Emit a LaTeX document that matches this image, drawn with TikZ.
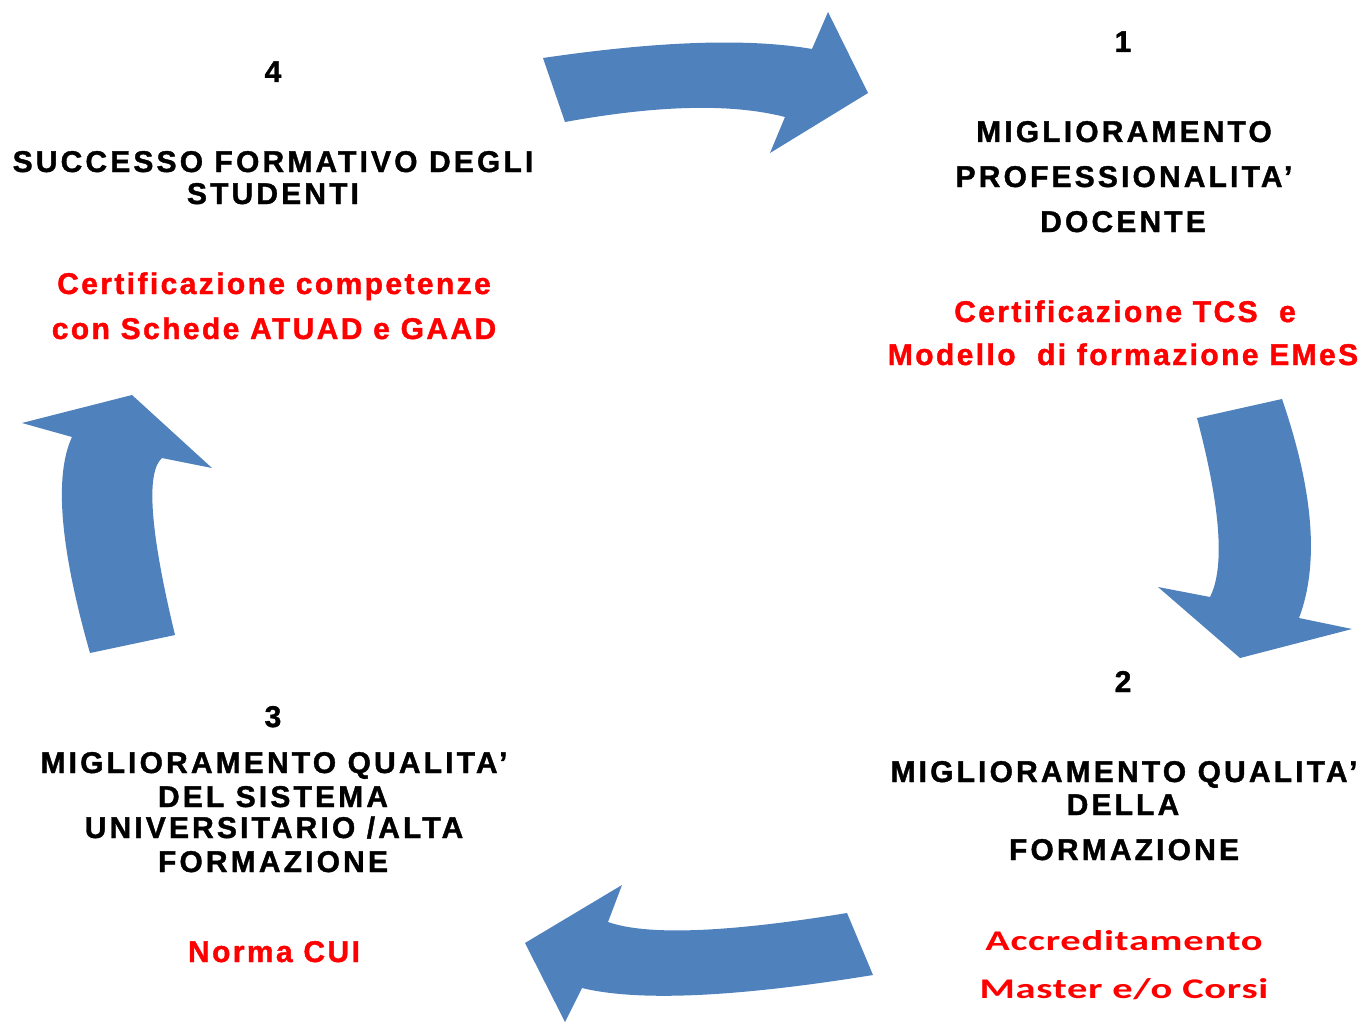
\documentclass[tikz,border=0pt]{standalone}
\usepackage{fontspec}
\newfontfamily\blkfont{Liberation Sans}[LetterSpace=10.5,BoldFeatures={FakeBold=1.3}]
\newfontfamily\redfont{Liberation Sans}[LetterSpace=8,BoldFeatures={FakeBold=1.3}]
\newfontfamily\carfont{Carlito}[LetterSpace=2.5,BoldFeatures={FakeStretch=1.42}]
\definecolor{arrowblue}{HTML}{4F81BD}
\definecolor{redtxt}{HTML}{FF0000}
\begin{document}
\begin{tikzpicture}[x=1pt,y=-1pt,
  arrowshape/.style={fill=arrowblue,draw=none},
  lbl/.style={anchor=base,inner sep=0pt,font=\blkfont\bfseries\fontsize{30}{36}\selectfont,text=black},
  redlbl/.style={anchor=base,inner sep=0pt,font=\redfont\bfseries\fontsize{30}{36}\selectfont,text=redtxt},
  redcal/.style={anchor=base,inner sep=0pt,font=\carfont\bfseries\fontsize{28.5}{34}\selectfont,text=redtxt}]
\useasboundingbox (0,0) rectangle (1368,1022);
\fill[white] (0,0) rectangle (1368,1022);

% arrow 4 -> 1 (top)
\path[arrowshape] (543,58) .. controls (658.7,41.0) and (748.3,38.0) .. (812,49)
  -- (828,12) -- (868,93) -- (770,153) -- (785,117)
  .. controls (731.7,103.3) and (658.3,105) .. (565,122) -- cycle;
% arrow 1 -> 2 (right)
\path[arrowshape] (1197,418) -- (1282,399) .. controls (1313.7,491.3) and (1319.3,564.3) .. (1299,618)
  -- (1352,629) -- (1240,658) -- (1158,587) -- (1210,597)
  .. controls (1225,567.3) and (1220.7,507.7) .. (1197,418) -- cycle;
% arrow 2 -> 3 (bottom)
\path[arrowshape] (847,913) -- (873,975) .. controls (735.3,997.3) and (638.3,1001.7) .. (582,988)
  -- (565,1022) -- (525,943) -- (622,885) -- (608,922)
  .. controls (647,935.7) and (726.7,932.7) .. (847,913) -- cycle;
% arrow 3 -> 4 (left)
\path[arrowshape] (90,653) -- (175,635) .. controls (150,531.3) and (145.7,472.3) .. (162,458)
  -- (212,468) -- (132,395) -- (22,423) -- (72,437)
  .. controls (54,475.7) and (60,547.7) .. (90,653) -- cycle;

% block 4
\node[lbl] (n4) at (273,82) {4};
\node[lbl] (t4a) at (273,172) {SUCCESSO FORMATIVO DEGLI};
\node[lbl] (t4b) at (273,204) {STUDENTI};
\node[redlbl] (r4a) at (274,294) {Certificazione competenze};
\node[redlbl] (r4b) at (274,339) {con Schede ATUAD e GAAD};

% block 1
\node[lbl] (n1) at (1123,52) {1};
\node[lbl] (t1a) at (1124,142) {MIGLIORAMENTO};
\node[lbl] (t1b) at (1124,187) {PROFESSIONALITA’};
\node[lbl] (t1c) at (1123,232) {DOCENTE};
\node[redlbl] (r1a) at (1125,322) {Certificazione TCS\ \ e};
\node[redlbl] (r1b) at (1123,365) {Modello\ \ di formazione EMeS};

% block 2
\node[lbl] (n2) at (1123,692) {2};
\node[lbl] (t2a) at (1124,782) {MIGLIORAMENTO QUALITA’};
\node[lbl] (t2b) at (1123,815) {DELLA};
\node[lbl] (t2c) at (1124,860) {FORMAZIONE};
\node[redcal] (r2a) at (1124,950) {Accreditamento};
\node[redcal] (r2b) at (1124,998) {Master e/o Corsi};

% block 3
\node[lbl] (n3) at (273,727) {3};
\node[lbl] (t3a) at (274,773) {MIGLIORAMENTO QUALITA’};
\node[lbl] (t3b) at (273,807) {DEL SISTEMA};
\node[lbl] (t3c) at (274,838) {UNIVERSITARIO /ALTA};
\node[lbl] (t3d) at (273,872) {FORMAZIONE};
\node[redlbl] (r3) at (274,962) {Norma CUI};
\end{tikzpicture}
\end{document}
